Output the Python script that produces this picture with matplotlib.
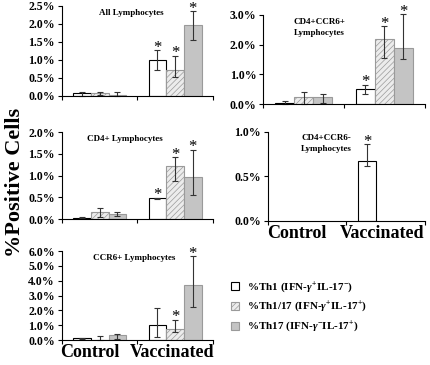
import matplotlib
matplotlib.use("Agg")
import matplotlib.pyplot as plt
from matplotlib.patches import Patch
from matplotlib.ticker import FuncFormatter

plt.rcParams['font.family'] = ['Liberation Serif', 'DejaVu Serif']
plt.rcParams['font.weight'] = 'bold'
plt.rcParams['mathtext.fontset'] = 'custom'
plt.rcParams['mathtext.rm'] = 'Liberation Serif:bold'
plt.rcParams['mathtext.it'] = 'Liberation Serif:italic:bold'
plt.rcParams['hatch.linewidth'] = 0.5

# --- data (percent positive cells) ---
groups = ["Control", "Vaccinated"]
series = ["Th1", "Th1/17", "Th17"]
legend_labels = [r"%Th1 (IFN-$\gamma^{+}$IL-17$^{-}$)",
                 r"%Th1/17 (IFN-$\gamma^{+}$IL-17$^{+}$)",
                 r"%Th17 (IFN-$\gamma^{-}$IL-17$^{+}$)"]

all_mean = [[0.07, 0.07, 0.04], [1.00, 0.72, 1.97]]
all_low = [[0.0, 0.02, 0.0], [0.72, 0.52, 1.55]]
all_high = [[0.12, 0.11, 0.10], [1.27, 1.12, 2.35]]

cd4ccr6p_mean = [[0.05, 0.22, 0.22], [0.50, 2.18, 1.88]]
cd4ccr6p_low = [[0.0, 0.0, 0.05], [0.33, 1.55, 1.52]]
cd4ccr6p_high = [[0.10, 0.42, 0.35], [0.65, 2.62, 3.02]]

cd4_mean = [[0.03, 0.15, 0.11], [0.48, 1.22, 0.96]]
cd4_low = [[0.02, 0.05, 0.06], [0.46, 0.87, 0.56]]
cd4_high = [[0.04, 0.25, 0.15], [0.49, 1.42, 1.60]]

cd4ccr6n_mean = [[0.0, 0.0, 0.0], [0.67, 0.0, 0.0]]
cd4ccr6n_low = [[0.0, 0.0, 0.0], [0.62, 0.0, 0.0]]
cd4ccr6n_high = [[0.0, 0.0, 0.0], [0.86, 0.0, 0.0]]

ccr6_mean = [[0.15, 0.02, 0.37], [1.03, 0.78, 3.70]]
ccr6_low = [[0.10, 0.0, 0.05], [0.22, 0.55, 2.22]]
ccr6_high = [[0.18, 0.27, 0.40], [2.20, 1.38, 5.65]]

# significance markers: (group, series)
all_star = [(1, 0), (1, 1), (1, 2)]
cd4ccr6p_star = [(1, 0), (1, 1), (1, 2)]
cd4_star = [(1, 0), (1, 1), (1, 2)]
cd4ccr6n_star = [(1, 0)]
ccr6_star = [(1, 1), (1, 2)]

styles = [dict(color="white", edgecolor="black", hatch=None),
          dict(color="#ececec", edgecolor="#9a9a9a", hatch="//////"),
          dict(color="#c4c4c4", edgecolor="#9a9a9a", hatch=None)]

fig = plt.figure(figsize=(4.3, 3.65), dpi=100)


def panel(rect, title, mean, low, high, stars, ymax, ystep, xlabels=False,
          title_y=0.97, title_x=0.46):
    ax = fig.add_axes(rect)
    w = 0.235
    for g in range(2):
        for s in range(3):
            m = mean[g][s]
            x = g + 0.5 + (s - 1) * w
            st = styles[s]
            if m > 0:
                ax.bar(x, m, w, color=st["color"], edgecolor=st["edgecolor"],
                       hatch=st["hatch"], linewidth=0.8)
            if high[g][s] > 0:
                ax.errorbar(x, m, yerr=[[m - low[g][s]], [high[g][s] - m]],
                            fmt="none", ecolor="#333333", elinewidth=0.8,
                            capsize=2, capthick=0.8, clip_on=False)
    for g, s in stars:
        x = g + 0.5 + (s - 1) * w
        ax.annotate("*", (x, high[g][s]), xytext=(0, -1.0), textcoords="offset points",
                    ha="center", va="baseline", fontsize=12, fontweight="normal",
                    annotation_clip=False)
    ax.set_xlim(0, 2)
    ax.set_ylim(0, ymax)
    ticks = [i * ystep for i in range(int(round(ymax / ystep)) + 1)]
    ax.set_yticks(ticks)
    ax.yaxis.set_major_formatter(FuncFormatter(lambda v, p: f"{v:.1f}%"))
    ax.tick_params(axis="y", labelsize=8.5, length=3, width=0.8, pad=2)
    ax.set_xticks([0, 1, 2], minor=True)
    ax.tick_params(axis="x", which="minor", length=3, width=0.8, direction="out")
    if xlabels:
        ax.set_xticks([0.37, 1.46])
        ax.set_xticklabels(groups, fontsize=13)
        ax.tick_params(axis="x", which="major", length=0, pad=3)
    else:
        ax.set_xticks([])
    for sp in ["top", "right"]:
        ax.spines[sp].set_visible(False)
    for sp in ["left", "bottom"]:
        ax.spines[sp].set_linewidth(0.8)
    ax.text(title_x, title_y, title, transform=ax.transAxes, ha="center",
            va="top", fontsize=6.5, linespacing=1.5)
    return ax


panel([0.144, 0.737, 0.351, 0.247], "All Lymphocytes", all_mean, all_low,
      all_high, all_star, 2.5, 0.5)
panel([0.612, 0.715, 0.376, 0.244], "CD4+CCR6+\nLymphocytes", cd4ccr6p_mean,
      cd4ccr6p_low, cd4ccr6p_high, cd4ccr6p_star, 3.0, 1.0, title_x=0.35)
panel([0.144, 0.400, 0.351, 0.238], "CD4+ Lymphocytes", cd4_mean, cd4_low,
      cd4_high, cd4_star, 2.0, 0.5, title_x=0.42)
panel([0.623, 0.395, 0.365, 0.244], "CD4+CCR6-\nLymphocytes", cd4ccr6n_mean,
      cd4ccr6n_low, cd4ccr6n_high, cd4ccr6n_star, 1.0, 0.5, xlabels=True,
      title_x=0.37)
panel([0.144, 0.068, 0.351, 0.244], "CCR6+ Lymphocytes", ccr6_mean, ccr6_low,
      ccr6_high, ccr6_star, 6.0, 1.0, xlabels=True, title_x=0.48)

fig.text(0.035, 0.5, "%Positive Cells", rotation=90, ha="center", va="center",
         fontsize=16)

handles = [Patch(facecolor=s["color"], edgecolor=s["edgecolor"], hatch=s["hatch"],
                 linewidth=0.8) for s in styles]
fig.legend(handles, legend_labels, loc="upper left",
           bbox_to_anchor=(0.515, 0.26), frameon=False, fontsize=8,
           handlelength=0.7, handleheight=0.7, handletextpad=0.7,
           labelspacing=0.5)

fig.savefig("out.png", dpi=100)
